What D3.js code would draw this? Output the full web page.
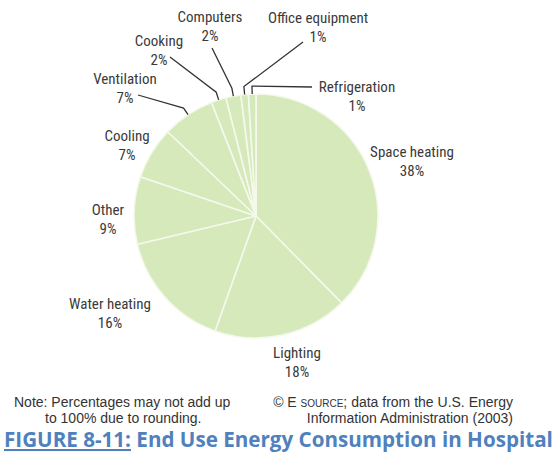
<!DOCTYPE html>
<html><head><meta charset="utf-8">
<script src="https://cdn.jsdelivr.net/npm/d3@7"></script>
<style>
html,body{margin:0;padding:0;background:#fff;}
svg{display:block;}
.lbl{font-family:"Liberation Sans Narrow","Arial Narrow","Roboto Condensed",sans-serif;font-size:15px;fill:#3a3a3a;}
.note{font-family:"Liberation Sans Narrow","Arial Narrow",sans-serif;font-size:14px;fill:#333;}
.title{font-family:"Open Sans","Liberation Sans",sans-serif;font-weight:bold;fill:#4f81bd;}
</style></head>
<body>
<svg id="c" width="558" height="455"></svg>
<script>
// Data (clockwise from 12 o'clock)
const categories = ["Space heating","Lighting","Water heating","Other","Cooling","Ventilation","Cooking","Computers","Office equipment","Refrigeration"];
const values = [38,18,16,9,7,7,2,2,1,1];
const percentLabels = ["38%","18%","16%","9%","7%","7%","2%","2%","1%","1%"];

// Layout: label text anchor positions (center x, first line baseline y) and leader ends
const labelLayout = [
  {x:412,y:157},
  {x:297,y:358},
  {x:110,y:309},
  {x:108,y:215},
  {x:127,y:141},
  {x:125,y:84,lx:138,ly:95},
  {x:159,y:46,lx:170,ly:57},
  {x:210,y:22,lx:212,ly:48},
  {x:318,y:23,lx:303,ly:42},
  {x:357,y:92,lx:312,ly:87}
];

const svg = d3.select("#c");
const cx = 256, cy = 216, r = 122;
const pie = d3.pie().sort(null).value(d=>d)(values);
const arc = d3.arc().innerRadius(0).outerRadius(r);
const g = svg.append("g").attr("transform",`translate(${cx},${cy})`);
g.selectAll("path").data(pie).join("path")
  .attr("d",arc).attr("fill","#d6e9ba")
  .attr("stroke","#f4f9ec").attr("stroke-width",1.6).attr("stroke-linejoin","round");

// leader lines
pie.forEach((p,i)=>{
  const L = labelLayout[i];
  if (L.lx===undefined) return;
  const a = (p.startAngle+p.endAngle)/2;
  const px = cx + r*Math.sin(a), py = cy - r*Math.cos(a);
  const ex = cx + (r+8)*Math.sin(a), ey = cy - (r+8)*Math.cos(a);
  svg.append("path")
    .attr("d",`M${L.lx},${L.ly}L${ex},${ey}L${px},${py}`)
    .attr("fill","none").attr("stroke","#333").attr("stroke-width",1.3);
});

// labels
categories.forEach((c,i)=>{
  const L = labelLayout[i];
  const t = svg.append("text").attr("class","lbl").attr("text-anchor","middle");
  t.append("tspan").attr("x",L.x).attr("y",L.y).text(c);
  t.append("tspan").attr("x",L.x).attr("y",L.y+19).text(percentLabels[i]);
});

// notes
const n1 = svg.append("text").attr("class","note");
n1.append("tspan").attr("x",14).attr("y",407).text("Note:  Percentages may not add up");
n1.append("tspan").attr("x",45).attr("y",423).text("to 100% due to rounding.");
const n2 = svg.append("text").attr("class","note").attr("text-anchor","end");
const l1 = n2.append("tspan").attr("x",513).attr("y",407);
l1.append("tspan").text("© E ");
l1.append("tspan").attr("font-size","10px").text("SOURCE");
l1.append("tspan").text("; data from the U.S. Energy");
n2.append("tspan").attr("x",513).attr("y",423).text("Information Administration (2003)");

// title
const title = svg.append("text").attr("class","title").attr("x",4).attr("y",447).attr("font-size","20px");
const t1 = title.append("tspan").attr("text-decoration","underline").text("FIGURE 8-11:");
title.append("tspan").text(" End Use Energy Consumption in Hospital");
let fs = 20;
const w = title.node().getComputedTextLength();
fs = 20*549/w;
title.attr("font-size",fs+"px");
</script>
</body></html>
